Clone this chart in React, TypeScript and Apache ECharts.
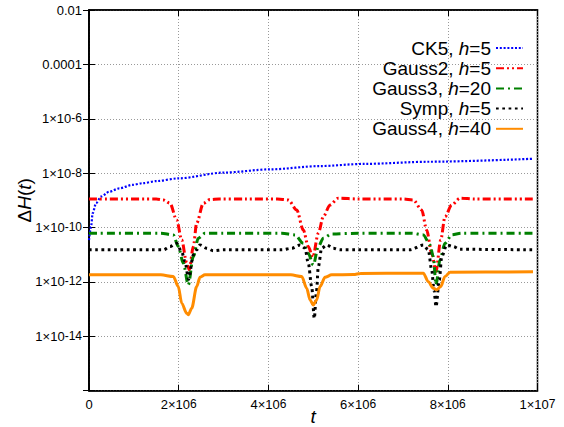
import React, { useEffect, useRef } from 'react';
import * as echarts from 'echarts';

const FONT = '"Liberation Sans", Arial, Helvetica, sans-serif';

// Legend / series names
const seriesNames = ['CK5, h=5', 'Gauss2, h=5', 'Gauss3, h=20', 'Symp, h=5', 'Gauss4, h=40'];

// t is given in units of 10^6, values are log10(ΔH)
const ck5T = [0, 0.045, 0.082, 0.156, 0.268, 0.453, 0.676, 0.974, 1.197, 1.51, 2.0, 3.0, 4.04, 5.15, 6.12, 7.6, 9.91];
const ck5LogDH = [-10.46, -9.97, -9.47, -9.11, -8.86, -8.68, -8.56, -8.43, -8.37, -8.29, -8.19, -7.98, -7.86, -7.74, -7.66, -7.58, -7.47];

const gauss2T = [0, 1.5, 1.66, 1.806, 1.955, 2.067, 2.178, 2.236, 2.326, 2.401, 2.548, 2.698, 2.9, 3.5, 4.2, 4.444, 4.631, 4.778, 4.89, 4.99, 5.113, 5.224, 5.373, 5.559, 6.0, 7.0, 7.231, 7.418, 7.529, 7.641, 7.737, 7.842, 7.938, 8.087, 8.272, 8.6, 9.9];
const gauss2LogDH = [-8.95, -8.95, -8.985, -9.107, -9.721, -10.456, -11.3, -11.55, -10.7, -9.84, -9.11, -8.97, -8.95, -8.95, -8.95, -8.985, -9.353, -10.088, -10.7, -11.1, -10.21, -9.6, -9.17, -8.92, -8.95, -8.95, -8.985, -9.353, -10.088, -10.945, -11.62, -10.456, -9.6, -9.17, -8.92, -8.95, -8.95];

const gauss3T = [0, 1.6, 1.88, 1.991, 2.103, 2.214, 2.326, 2.437, 2.586, 3.0, 4.3, 4.593, 4.778, 4.89, 5.001, 5.113, 5.224, 5.411, 6.0, 7.2, 7.454, 7.603, 7.677, 7.737, 7.826, 7.938, 8.087, 8.3, 9.9];
const gauss3LogDH = [-10.21, -10.21, -10.27, -10.7, -11.31, -12.11, -11.07, -10.39, -10.21, -10.21, -10.21, -10.27, -10.58, -10.95, -11.38, -10.7, -10.39, -10.235, -10.21, -10.21, -10.27, -10.64, -11.07, -12.1, -11.19, -10.58, -10.27, -10.21, -10.21];

const sympT = [0, 1.4, 1.657, 1.806, 1.955, 2.067, 2.14, 2.22, 2.326, 2.401, 2.475, 2.624, 2.771, 3.0, 4.3, 4.52, 4.705, 4.816, 4.89, 4.965, 5.023, 5.07, 5.113, 5.188, 5.3, 5.447, 5.596, 6.0, 7.0, 7.157, 7.454, 7.565, 7.641, 7.692, 7.737, 7.811, 7.864, 7.976, 8.122, 8.272, 9.9];
const sympLogDH = [-10.82, -10.82, -10.82, -10.7, -10.58, -10.89, -11.25, -11.9, -11.01, -10.82, -10.64, -10.76, -10.85, -10.82, -10.82, -10.76, -10.64, -10.76, -11.31, -12.17, -13.34, -12.4, -11.44, -10.76, -10.64, -10.76, -10.82, -10.82, -10.82, -10.82, -10.64, -10.82, -11.56, -12.29, -12.91, -11.93, -11.07, -10.64, -10.7, -10.8, -10.82];

const gauss4T = [0, 1.6, 1.88, 1.991, 2.067, 2.178, 2.214, 2.29, 2.401, 2.475, 2.586, 3.0, 4.5, 4.743, 4.854, 4.928, 5.001, 5.077, 5.151, 5.262, 5.411, 5.9, 6.05, 7.2, 7.454, 7.565, 7.677, 7.752, 7.842, 7.938, 8.049, 9.9];
const gauss4LogDH = [-11.74, -11.74, -11.8, -12.17, -12.78, -13.15, -13.21, -12.97, -12.17, -11.83, -11.74, -11.74, -11.74, -11.8, -12.23, -12.66, -12.85, -12.66, -12.17, -11.83, -11.74, -11.73, -11.69, -11.68, -11.68, -11.99, -12.23, -12.29, -12.17, -11.8, -11.64, -11.63];

// Tick labels
const xTickLabels = ['{b|0}', '{b|2×10}{s|6}', '{b|4×10}{s|6}', '{b|6×10}{s|6}', '{b|8×10}{s|6}', '{b|1×10}{s|7}'];
const yTickLabels: Record<string, string> = {
  '-16': '',
  '-14': '{b|1×10}{s|-14}',
  '-12': '{b|1×10}{s|-12}',
  '-10': '{b|1×10}{s|-10}',
  '-8': '{b|1×10}{s|-8}',
  '-6': '{b|1×10}{s|-6}',
  '-4': '{b|0.0001}',
  '-2': '{b|0.01}',
};

const toData = (t: number[], lg: number[]) => t.map((v, i) => [v * 1e6, Math.pow(10, lg[i])]);

const tickRich = {
  b: { fontSize: 13, fontFamily: FONT, color: '#000', lineHeight: 13, verticalAlign: 'bottom' },
  s: { fontSize: 12, fontFamily: FONT, color: '#000', lineHeight: 12, verticalAlign: 'top', padding: [0, 0, 6, 0] },
};

export default function App() {
  const ref = useRef<HTMLDivElement>(null);
  useEffect(() => {
    if (!ref.current) return;
    const chart = echarts.init(ref.current, undefined, { renderer: 'svg' });
    const lineBase = { type: 'line', showSymbol: false, symbol: 'none', smooth: 0.3, smoothMonotone: 'x' };
    const series = [
      { ...lineBase, name: seriesNames[0], data: toData(ck5T, ck5LogDH), lineStyle: { color: '#0000ff', width: 2.2, type: [2, 1.8], cap: 'butt' }, itemStyle: { color: '#0000ff' } },
      { ...lineBase, name: seriesNames[1], data: toData(gauss2T, gauss2LogDH), lineStyle: { color: '#ff0000', width: 3, type: [8, 3, 2, 3, 2, 3], cap: 'butt' }, itemStyle: { color: '#ff0000' } },
      { ...lineBase, name: seriesNames[2], data: toData(gauss3T, gauss3LogDH), lineStyle: { color: '#008000', width: 3, type: [8, 4, 2, 4], cap: 'butt' }, itemStyle: { color: '#008000' } },
      { ...lineBase, name: seriesNames[3], data: toData(sympT, sympLogDH), lineStyle: { color: '#000000', width: 3, type: [2.7, 3.6], cap: 'butt' }, itemStyle: { color: '#000000' } },
      { ...lineBase, name: seriesNames[4], data: toData(gauss4T, gauss4LogDH), lineStyle: { color: '#ff8c00', width: 3, type: 'solid' }, itemStyle: { color: '#ff8c00' } },
    ];
    const gridLine = { show: true, lineStyle: { color: '#999', width: 1, type: [1, 2] } };
    const axisLine = { show: true, lineStyle: { color: '#000', width: 1.5 } };
    const axisTick = { show: true, inside: true, length: 6, lineStyle: { color: '#000', width: 1 } };
    chart.setOption({
      animation: false,
      backgroundColor: '#fff',
      grid: { left: 89, right: 26.5, top: 10, bottom: 36.3, show: true, borderColor: '#000', borderWidth: 1.5, containLabel: false, outerBoundsMode: 'none' },
      legend: {
        orient: 'vertical',
        align: 'right',
        right: 40,
        top: 38,
        padding: 0,
        itemWidth: 27,
        itemHeight: 12,
        itemGap: 0.2,
        itemStyle: { opacity: 0, borderWidth: 0 },
        formatter: (n: string) => n.replace('h=', '{i|h}='),
        textStyle: {
          fontSize: 19, fontFamily: FONT, color: '#000', lineHeight: 20,
          rich: { i: { fontSize: 19, fontFamily: FONT, fontStyle: 'italic', color: '#000', lineHeight: 20 } },
        },
        data: seriesNames,
      },
      xAxis: [
        {
          type: 'value', min: 0, max: 1e7, interval: 2e6,
          name: '{i|t}', nameLocation: 'middle', nameGap: 16, nameMoveOverlap: false,
          nameTextStyle: { fontSize: 19, fontFamily: FONT, color: '#000', verticalAlign: 'top', rich: { i: { fontSize: 19, fontFamily: FONT, fontStyle: 'italic', color: '#000' } } },
          axisLine, axisTick,
          axisLabel: { margin: 7, formatter: (v: number) => xTickLabels[Math.round(v / 2e6)] ?? '', rich: tickRich },
          splitLine: gridLine,
        },
        {
          type: 'value', min: 0, max: 1e7, interval: 2e6, position: 'top',
          axisLine, axisTick, axisLabel: { show: false }, splitLine: { show: false },
        },
      ],
      yAxis: [
        {
          type: 'log', logBase: 10, min: 1e-16, max: 1e-2, interval: 2,
          name: 'Δ{i|H}({i|t})', nameLocation: 'middle', nameRotate: 90, nameGap: 55, nameMoveOverlap: false,
          nameTextStyle: { fontSize: 19, fontFamily: FONT, color: '#000', rich: { i: { fontSize: 19, fontFamily: FONT, fontStyle: 'italic', color: '#000' } } },
          axisLine, axisTick,
          axisLabel: { margin: 7, formatter: (v: number) => yTickLabels[String(Math.round(Math.log10(v)))] ?? '', rich: tickRich },
          splitLine: gridLine,
          minorTick: { show: false },
        },
        {
          type: 'log', logBase: 10, min: 1e-16, max: 1e-2, interval: 2, position: 'right',
          axisLine, axisTick, axisLabel: { show: false }, splitLine: { show: false },
        },
      ],
      series,
    });
    return () => chart.dispose();
  }, []);
  return <div ref={ref} style={{ position: 'fixed', left: 0, top: 0, width: 564, height: 427 }} />;
}
